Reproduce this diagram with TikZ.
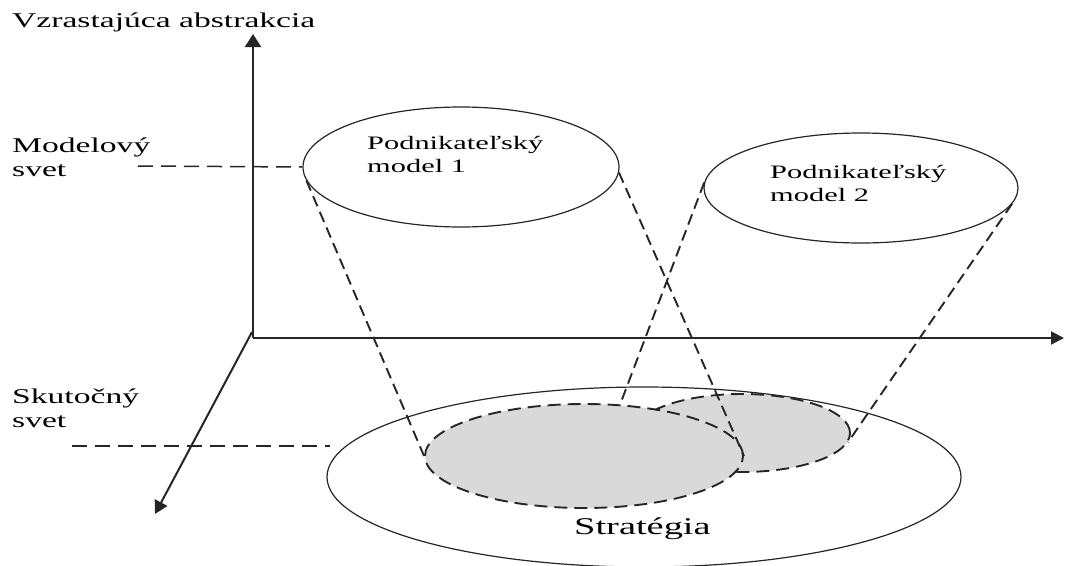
\documentclass[tikz,border=0pt]{standalone}
\usepackage{fontspec}
\setmainfont{Liberation Serif}
\usetikzlibrary{shapes.geometric,arrows.meta}
\begin{document}
\begin{tikzpicture}[x=1pt,y=-1pt,
 axis/.style={line width=2pt, draw=black!85, line cap=butt},
 guide/.style={line width=1.5pt, draw=black!85, dash pattern=on 15pt off 8pt},
 proj/.style={line width=1.9pt, draw=black!85, dash pattern=on 11pt off 6pt},
 oval/.style={ellipse, draw=black!85, line width=1.2pt, inner sep=0pt},
 region/.style={ellipse, draw=black!85, fill=black!15, line width=1.9pt, dash pattern=on 13pt off 7pt, inner sep=0pt},
 lbl/.style={inner sep=0pt, anchor=base west, font=\fontsize{21}{24}\selectfont},
 mlbl/.style={inner sep=0pt, anchor=base west, font=\fontsize{19}{23}\selectfont},
]
\useasboundingbox (0,0) rectangle (1065,565);

% axes
\coordinate (O) at (253,338);
\coordinate (ytip) at (253,34);
\coordinate (xtip) at (1064,338);
\coordinate (dstart) at (252,332);
\coordinate (ztip) at (155,514);
\draw[axis, -{Triangle[length=13pt,width=16pt]}] (O) -- (ytip);
\draw[axis, -{Triangle[length=13pt,width=13pt]}] (O) -- (xtip);
\draw[axis, -{Triangle[length=13pt,width=14pt]}] (dstart) -- (ztip);

% ellipses
\node[oval, minimum width=316pt, minimum height=120pt] (m1) at (461,167) {};
\node[oval, minimum width=314pt, minimum height=110pt] (m2) at (861,188) {};
\node[oval, minimum width=634pt, minimum height=180pt] (s) at (644,477) {};
\node[region, minimum width=216pt, minimum height=78pt] (r2) at (742,433) {};
\node[region, minimum width=318pt, minimum height=104pt] (r1) at (584,456) {};

% guide lines
\coordinate (g1) at (138,166);
\draw[guide] (g1) -- (m1.west);
\coordinate (g2) at (72,446);
\coordinate (g2e) at (330,446);
\draw[guide] (g2) -- (g2e);

% projection lines
\draw[proj] (m1.185) -- (r1.180);
\draw[proj] (m1.358) -- (r1.0);
\draw[proj] (m2.178) -- (r1.55);
\draw[proj] (m2.354) -- (r2.355);

% labels
\node[lbl] (t) at (12,27) {\scalebox{1.6}[1]{Vzrastajúca abstrakcia}};
\node[lbl] (lm) at (12,152) {\scalebox{1.6}[1]{\begin{tabular}[t]{@{}l@{}}Modelový\\svet\end{tabular}}};
\node[lbl] (ls) at (12,403) {\scalebox{1.6}[1]{\begin{tabular}[t]{@{}l@{}}Skutočný\\svet\end{tabular}}};
\node[mlbl] (p1) at (367,149) {\scalebox{1.6}[1]{\begin{tabular}[t]{@{}l@{}}Podnikateľský\\model 1\end{tabular}}};
\node[mlbl] (p2) at (770,178) {\scalebox{1.6}[1]{\begin{tabular}[t]{@{}l@{}}Podnikateľský\\model 2\end{tabular}}};
\node[lbl, font=\fontsize{24}{28}\selectfont] (st) at (574,534) {\scalebox{1.6}[1]{Stratégia}};
\end{tikzpicture}
\end{document}
